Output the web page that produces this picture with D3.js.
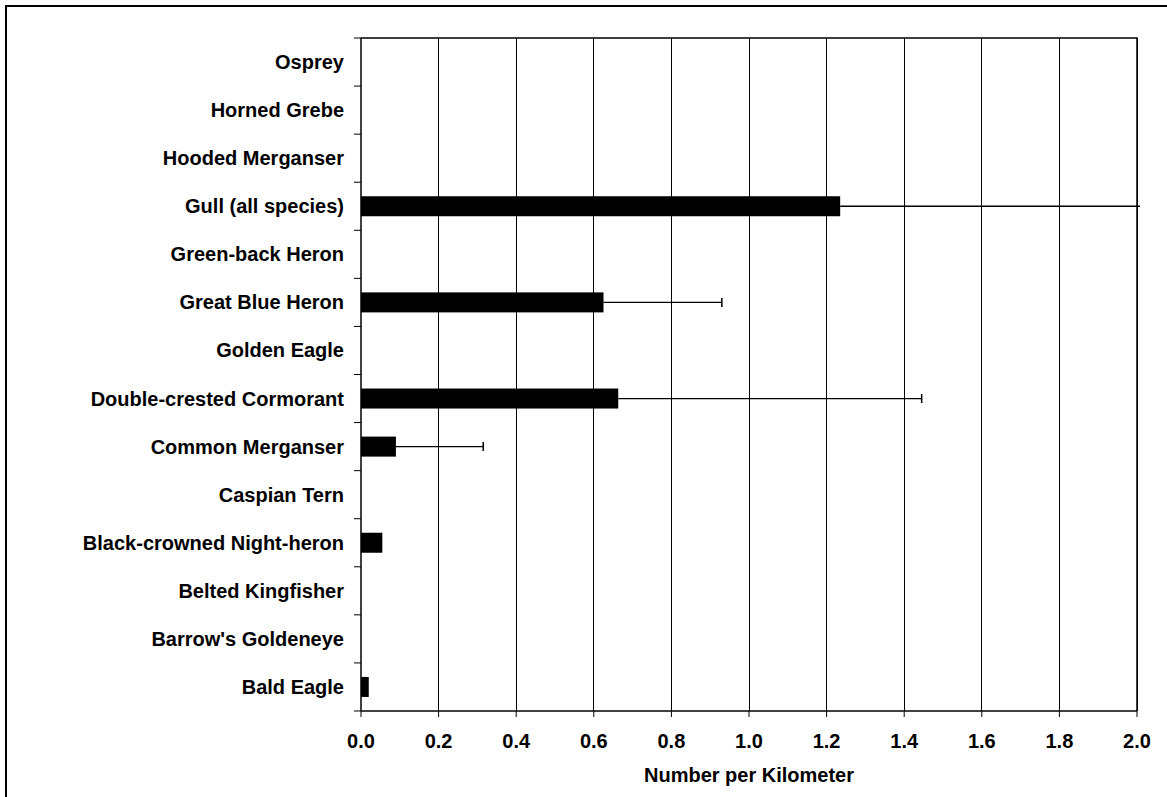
<!DOCTYPE html>
<html>
<head>
<meta charset="utf-8">
<script src="https://cdn.jsdelivr.net/npm/d3@7"></script>
<style>
  html, body { margin: 0; padding: 0; background: #fff; }
  svg { display: block; }
  text { font-family: "Liberation Sans", Arial, sans-serif; font-weight: bold; fill: #000; }
</style>
</head>
<body>
<svg id="chart" width="1167" height="797"></svg>
<script>
// Species, listed top to bottom
const species = [
  "Osprey", "Horned Grebe", "Hooded Merganser", "Gull (all species)",
  "Green-back Heron", "Great Blue Heron", "Golden Eagle",
  "Double-crested Cormorant", "Common Merganser", "Caspian Tern",
  "Black-crowned Night-heron", "Belted Kingfisher", "Barrow's Goldeneye",
  "Bald Eagle"
];
// Mean number per kilometer
const meanPerKm = [0, 0, 0, 1.235, 0, 0.625, 0, 0.663, 0.090, 0, 0.055, 0, 0, 0.020];
// Upper error (added to the mean)
const upperError = [0, 0, 0, 0.95, 0, 0.305, 0, 0.782, 0.225, 0, 0, 0, 0, 0];
// Tick values on the x axis
const xTicks = [0, 0.2, 0.4, 0.6, 0.8, 1.0, 1.2, 1.4, 1.6, 1.8, 2.0];
const xTitle = "Number per Kilometer";

const svg = d3.select("#chart");
const m = { left: 361, right: 1137, top: 38, bottom: 711 };
const fs = 20;

// Outer frame
svg.append("rect")
  .attr("x", 6).attr("y", 6)
  .attr("width", 1200).attr("height", 840)
  .attr("fill", "none").attr("stroke", "#000").attr("stroke-width", 2);

const x = d3.scaleLinear().domain([0, 2]).range([m.left, m.right]);
const y = d3.scaleBand().domain(species).range([m.top, m.bottom]).paddingInner(0).paddingOuter(0);
const barH = 20;

svg.append("defs").append("clipPath").attr("id", "plotClip")
  .append("rect").attr("x", m.left).attr("y", m.top)
  .attr("width", m.right - m.left + 3).attr("height", m.bottom - m.top);

// Vertical gridlines
svg.append("g").selectAll("line")
  .data(xTicks.slice(1))
  .join("line")
  .attr("x1", d => x(d)).attr("x2", d => x(d))
  .attr("y1", m.top).attr("y2", m.bottom)
  .attr("stroke", "#000").attr("stroke-width", 1)
  .attr("shape-rendering", "crispEdges");

// Plot area border (top and right)
svg.append("path")
  .attr("d", `M${m.left},${m.top}H${m.right}V${m.bottom}`)
  .attr("fill", "none").attr("stroke", "#000").attr("stroke-width", 1.5);

// Bars
const rows = species.map((s, i) => ({ s, v: meanPerKm[i], e: upperError[i] }));
svg.append("g").selectAll("rect")
  .data(rows.filter(d => d.v > 0))
  .join("rect")
  .attr("x", x(0))
  .attr("y", d => y(d.s) + y.bandwidth() / 2 - barH / 2)
  .attr("width", d => x(d.v) - x(0))
  .attr("height", barH)
  .attr("fill", "#000");

// Error bars (upper only)
const eg = svg.append("g").attr("clip-path", "url(#plotClip)");
rows.filter(d => d.e > 0).forEach(d => {
  const cy = y(d.s) + y.bandwidth() / 2;
  const x1 = x(d.v), x2 = x(d.v + d.e);
  eg.append("line").attr("x1", x1).attr("x2", x2).attr("y1", cy).attr("y2", cy)
    .attr("stroke", "#000").attr("stroke-width", 1.3);
  eg.append("line").attr("x1", x2).attr("x2", x2).attr("y1", cy - 4.5).attr("y2", cy + 4.5)
    .attr("stroke", "#000").attr("stroke-width", 1.5);
});

// Y axis
const yAxis = svg.append("g");
yAxis.append("line")
  .attr("x1", m.left).attr("x2", m.left).attr("y1", m.top).attr("y2", m.bottom)
  .attr("stroke", "#000").attr("stroke-width", 1.5);
yAxis.selectAll("line.tick")
  .data(d3.range(species.length + 1))
  .join("line").attr("class", "tick")
  .attr("x1", m.left - 7).attr("x2", m.left)
  .attr("y1", i => m.top + i * y.step()).attr("y2", i => m.top + i * y.step())
  .attr("stroke", "#000").attr("stroke-width", 1);
yAxis.selectAll("text")
  .data(species)
  .join("text")
  .attr("x", 344)
  .attr("y", d => y(d) + y.bandwidth() / 2)
  .attr("dy", "0.35em")
  .attr("text-anchor", "end")
  .attr("font-size", fs)
  .text(d => d);

// X axis
const xAxis = svg.append("g");
xAxis.append("line")
  .attr("x1", m.left).attr("x2", m.right).attr("y1", m.bottom).attr("y2", m.bottom)
  .attr("stroke", "#000").attr("stroke-width", 1.5);
xAxis.selectAll("line.tick")
  .data(xTicks)
  .join("line").attr("class", "tick")
  .attr("x1", d => x(d)).attr("x2", d => x(d))
  .attr("y1", m.bottom).attr("y2", m.bottom + 6)
  .attr("stroke", "#000").attr("stroke-width", 1);
xAxis.selectAll("text")
  .data(xTicks)
  .join("text")
  .attr("x", d => x(d))
  .attr("y", 741)
  .attr("dy", "0.35em")
  .attr("text-anchor", "middle")
  .attr("font-size", fs)
  .text(d => d3.format(".1f")(d));

svg.append("text")
  .attr("x", (m.left + m.right) / 2)
  .attr("y", 775)
  .attr("dy", "0.35em")
  .attr("text-anchor", "middle")
  .attr("font-size", fs)
  .text(xTitle);
</script>
</body>
</html>
